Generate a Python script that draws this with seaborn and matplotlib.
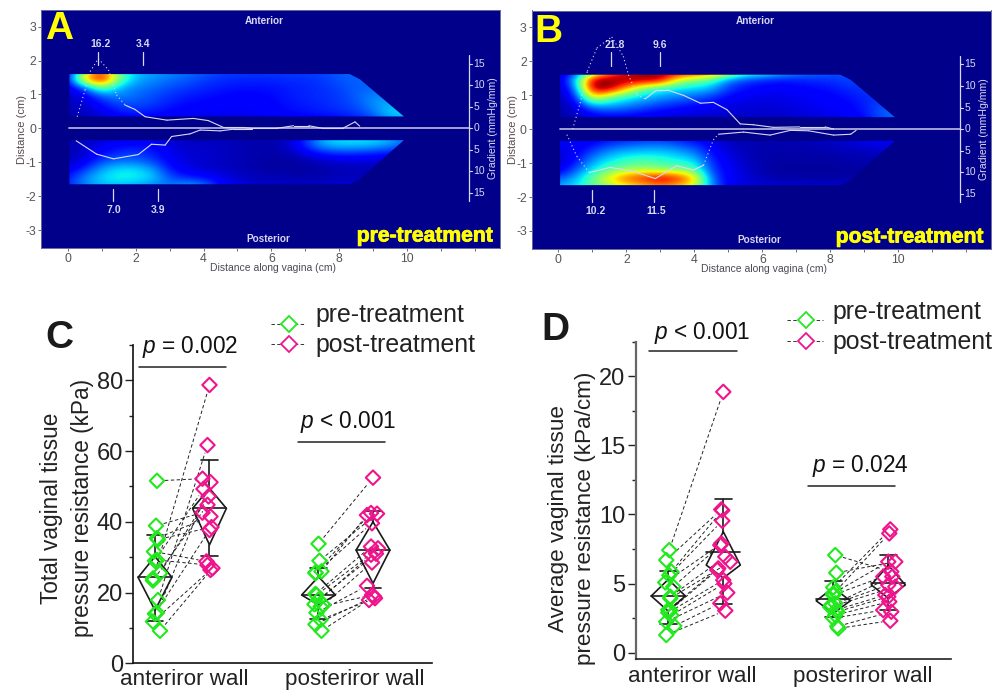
import numpy as np
import pandas as pd
import matplotlib
matplotlib.use('Agg')
import matplotlib.pyplot as plt
import matplotlib.patheffects as pe
from matplotlib.patches import Polygon
import seaborn as sns

W, H = 1004, 690

# heat maps, jet scale x100, columns x = 0, 0.5 ... 10 cm
heat_x_step = 0.5
ant_rows = [1.7, 1.45, 1.2, 0.95, 0.7, 0.45, 0.2]
post_rows = [-0.2, -0.45, -0.7, -0.95, -1.2, -1.45, -1.7]

a_ant = [
    [8, 48, 82, 44, 32, 29, 26, 24, 22, 20, 19, 19, 19, 19, 19, 20, 22, 24, 24, 24, 24],
    [8, 76, 100, 52, 30, 27, 24, 22, 19, 17, 16, 16, 16, 17, 17, 18, 21, 22, 22, 22, 22],
    [7, 20, 52, 30, 25, 23, 20, 18, 16, 15, 14, 14, 14, 15, 16, 17, 19, 22, 22, 22, 22],
    [6, 9, 21, 26, 23, 20, 17, 15, 14, 13, 12, 12, 13, 15, 16, 17, 18, 22, 26, 26, 26],
    [5, 7, 13, 19, 20, 18, 15, 13, 12, 11, 11, 11, 12, 14, 15, 16, 18, 20, 27, 30, 30],
    [4, 6, 9, 14, 15, 14, 12, 11, 11, 11, 11, 11, 12, 13, 14, 15, 16, 18, 23, 34, 34],
    [3, 4, 6, 8, 9, 9, 8, 7, 7, 7, 7, 7, 8, 8, 9, 10, 11, 13, 16, 26, 26],
]
a_post = [
    [4, 5, 6, 7, 7, 6, 6, 5, 5, 5, 4, 4, 4, 5, 12, 28, 32, 32, 32, 28, 22],
    [4, 6, 9, 11, 12, 11, 8, 6, 6, 6, 5, 4, 4, 7, 18, 32, 36, 36, 35, 30, 22],
    [4, 7, 12, 16, 17, 15, 10, 7, 7, 6, 5, 4, 4, 5, 11, 18, 20, 20, 18, 16, 14],
    [5, 9, 18, 22, 22, 18, 11, 8, 7, 6, 5, 4, 3, 3, 4, 6, 8, 8, 8, 8, 8],
    [8, 16, 28, 34, 34, 28, 14, 9, 7, 6, 5, 4, 3, 3, 3, 4, 5, 5, 5, 5, 5],
    [14, 26, 34, 39, 38, 34, 20, 15, 13, 10, 7, 5, 5, 4, 4, 4, 5, 5, 5, 5, 5],
    [15, 25, 30, 30, 28, 25, 24, 30, 26, 12, 9, 7, 7, 7, 7, 7, 8, 8, 8, 8, 8],
]
b_ant = [
    [6, 14, 40, 72, 88, 96, 98, 96, 95, 88, 70, 50, 45, 35, 28, 25, 22, 20, 20, 20, 20],
    [6, 30, 100, 100, 100, 100, 98, 62, 50, 44, 24, 18, 15, 14, 15, 16, 17, 19, 19, 19, 19],
    [5, 20, 100, 100, 72, 48, 38, 35, 34, 30, 18, 14, 12, 11, 12, 13, 14, 16, 18, 18, 18],
    [5, 12, 70, 48, 38, 32, 28, 25, 22, 18, 12, 10, 9, 9, 10, 11, 12, 14, 16, 18, 18],
    [4, 8, 28, 30, 26, 22, 18, 15, 13, 11, 9, 8, 8, 8, 9, 10, 11, 12, 15, 20, 20],
    [3, 6, 12, 14, 14, 12, 10, 9, 8, 8, 7, 7, 7, 7, 8, 9, 10, 11, 14, 22, 25],
    [3, 4, 7, 8, 8, 7, 6, 5, 5, 5, 5, 5, 5, 5, 6, 7, 8, 9, 11, 18, 20],
]
b_post = [
    [8, 10, 10, 11, 12, 13, 13, 11, 9, 7, 5, 5, 5, 5, 5, 6, 7, 8, 10, 12, 12],
    [12, 10, 12, 17, 20, 22, 23, 20, 16, 11, 6, 5, 4, 4, 4, 5, 6, 7, 9, 10, 10],
    [8, 10, 20, 28, 32, 33, 33, 30, 25, 13, 8, 5, 4, 4, 4, 4, 4, 5, 5, 6, 6],
    [6, 13, 28, 36, 42, 45, 42, 38, 35, 16, 10, 6, 4, 3, 3, 3, 3, 4, 4, 4, 4],
    [8, 20, 35, 46, 52, 55, 50, 50, 45, 18, 11, 7, 4, 3, 3, 3, 3, 3, 3, 3, 3],
    [20, 30, 48, 68, 84, 90, 100, 92, 72, 22, 11, 8, 5, 4, 3, 3, 3, 3, 3, 3, 3],
    [30, 35, 45, 52, 60, 66, 72, 66, 60, 26, 10, 9, 8, 8, 8, 8, 8, 8, 8, 8, 8],
]

# gradient curves (cm, mmHg/mm)
a_ant_x = [0.28, 0.51, 0.66, 0.9, 1.2, 1.44, 1.69, 1.98, 2.28, 2.92, 3.7, 4.14, 4.59, 5.17, 5.4, 6.15, 6.65, 7.1, 7.5, 8.1, 8.46, 8.6]
a_ant_g = [2.7, 8.9, 13.2, 16.2, 13.6, 7.8, 5.4, 4.4, 2.7, 1.9, 2.3, 1.8, 0.2, 0.2, 0, 0, 0.6, 0.6, 0, 0, 1.5, 0.5]
a_post_x = [0.25, 0.85, 1.35, 2.08, 2.47, 2.87, 3.06, 3.6, 3.9, 4.49, 4.88, 5.42]
a_post_g = [2.9, 6, 7.1, 6.1, 3.7, 3.9, 1.9, 1.3, 0.4, 0.6, 0.2, 0.2]
b_ant_x = [0.42, 0.64, 0.85, 1.13, 1.57, 1.91, 2.06, 2.31, 2.55, 2.9, 3.2, 3.69, 4.18, 4.56, 4.96, 5.35, 5.74, 6.33, 7.1, 7.85, 8.1]
b_ant_g = [0, 6, 13.4, 18.8, 21.4, 16.9, 12.6, 8, 7, 9.1, 9.1, 7.8, 6, 6.2, 4.5, 1.2, 1, 0.4, 0.5, 0.5, 0]
b_post_x = [0.25, 0.54, 0.91, 1.52, 2.2, 2.85, 3.48, 3.97, 4.27, 4.56, 4.71, 5.45, 6.23, 6.82, 7.36, 8.1, 8.6, 8.76]
b_post_g = [1.3, 6.3, 10.1, 8.9, 9.8, 11.5, 8.5, 9.5, 8.4, 2.5, 1.2, 0.7, 1.4, 0.3, 0.4, 1.4, 1.2, 0.3]

# peak labels: label, label x, tick x
a_ant_peaks = [('16.2', 0.98, 0.9), ('3.4', 2.21, 2.21)]
a_post_peaks = [('7.0', 1.345, 1.345), ('3.9', 2.65, 2.65)]
b_ant_peaks = [('21.8', 1.65, 1.56), ('9.6', 3.0, 3.0)]
b_post_peaks = [('10.2', 1.1, 1.0), ('11.5', 2.89, 2.8)]
gradient_ticks = [15, 10, 5, 0, 5, 10, 15]

# paired points, value and sideways offset in px
c_ant_pre = [51.6, 38.9, 35.4, 35, 31.6, 29.2, 29, 25.5, 24, 23.4, 17.9, 14.3, 14, 11.8, 9.2]
c_ant_pre_off = [2, 1, 2, 3, -1, 2, 0, 5, -2, -2, 3, 2, 0, -2, 5]
c_ant_post = [52.2, 42.6, 41.5, 38.5, 28.8, 27.8, 49.3, 47.2, 78.7, 44.8, 61.7, 51.2, 37.7, 26.4, 26.9]
c_ant_post_off = [-7, -7, 1, 2, -3, -2, -6, -1, 0, -2, -2, 1, 0, 1, 3]
c_pos_pre = [33.8, 29, 26, 25.7, 25.5, 19.6, 19.3, 18, 16.7, 16.5, 16, 14.3, 12.3, 11, 9.2]
c_pos_pre_off = [0, 1, 3, -3, -3, -3, -2, 0, -4, 5, 2, -2, 2, -3, 3]
c_pos_post = [52.5, 42.3, 41.9, 42.5, 39.6, 33, 32.5, 31, 30.7, 28.5, 19.3, 21.9, 18.4, 18.9, 17.9]
c_pos_post_off = [0, 4, -6, -2, -1, -2, 5, 3, -2, -1, -1, -6, 2, 1, -4]

d_ant_pre = [7.42, 6.7, 5.86, 5.6, 5.08, 4.77, 4.05, 3.93, 3.1, 3.08, 2.9, 2.7, 2.24, 1.93, 1.28]
d_ant_pre_off = [1, -2, 3, 1, -3, 5, 2, 2, 0, 2, 0, 3, -2, 6, -2]
d_ant_post = [18.87, 10.36, 10.3, 9.54, 7.9, 7.78, 6.94, 6.58, 6.1, 5.98, 5.25, 5.0, 4.34, 3.57, 3.04]
d_ant_post_off = [0, -2, -1, -1, -2, -3, 2, 7, -5, -6, 0, 1, 4, -3, 2]
d_pos_pre = [7.06, 5.78, 4.72, 4.4, 4.29, 4.17, 3.57, 3.45, 3.3, 3.1, 2.96, 2.72, 2.5, 1.9, 1.76]
d_pos_pre_off = [2, 3, 0, 2, 0, 0, 2, -2, -3, 3, 4, 2, 0, 4, 5]
d_pos_post = [5.86, 6.58, 8.92, 8.63, 6.58, 5.5, 5.5, 4.9, 4.77, 4.17, 4.05, 3.69, 3.08, 2.96, 2.31]
d_pos_post_off = [3, 7, 2, 1, 0, -5, 4, 0, 7, -3, 0, 1, -5, 3, 2]

# summaries: mean, median, diamond low, diamond high, whisker low, whisker high
c_summary = [[24.3, 24.3, 15, 30.2, 12, 36.3], [43.8, 43.8, 33.5, 49.5, 30.2, 57.5],
             [19.3, 19.3, 16.5, 24.5, 12.5, 27], [32, 32, 22.6, 40, 21.2, 43]]
d_summary = [[4.1, 4.1, 3.0, 5.3, 2.1, 5.93], [7.3, 6.34, 5.4, 8.75, 3.52, 11.1],
             [3.86, 3.75, 2.85, 4.7, 2.6, 5.18], [5.06, 4.9, 3.95, 6.33, 3.1, 7.06]]

wall_labels = ['anteriror wall', 'posteriror wall']
GREEN = '#22e81e'
PINK = '#f0148c'
NAVY = '#00008a'
PALE = '#d8d8f4'
GRAD_SCALE = 0.1268   # cm of plot height per mmHg/mm

sns.set_theme(style='white')
plt.rcParams['font.family'] = ['Liberation Sans', 'DejaVu Sans']
plt.rcParams['mathtext.fontset'] = 'custom'
plt.rcParams['mathtext.rm'] = 'Liberation Sans'
plt.rcParams['mathtext.it'] = 'Liberation Sans:italic'
plt.rcParams['axes.unicode_minus'] = False

fig = plt.figure(figsize=(W / 100, H / 100), dpi=100)


def px_axes(left, top, right, bottom):
    return fig.add_axes([left / W, 1 - bottom / H, (right - left) / W, (bottom - top) / H])


def draw_heat(ax, grid, rows, outline):
    step = abs(rows[1] - rows[0])
    extent = [-heat_x_step / 2, len(grid[0]) * heat_x_step - heat_x_step / 2,
              min(rows) - step / 2, max(rows) + step / 2]
    im = ax.imshow(np.array(grid) / 100, cmap='jet', vmin=0, vmax=1, aspect='auto', extent=extent,
                   interpolation='bicubic', interpolation_stage='data', zorder=1)
    im.set_clip_path(Polygon(outline, closed=True, transform=ax.transData))


def draw_curve(ax, xs, grads, sign, dotted):
    df = pd.DataFrame({'x': xs, 'y': [sign * g * GRAD_SCALE for g in grads]})
    for i in range(len(df) - 1):
        style = (0, (1, 2.5)) if i in dotted else '-'
        sns.lineplot(data=df.iloc[i:i + 2], x='x', y='y', ax=ax, color=PALE, lw=0.8,
                     linestyle=style, estimator=None, sort=False, zorder=3)


def heat_panel(ax, ant, post, curves, peaks_top, peaks_bottom):
    ax.set_facecolor(NAVY)
    draw_heat(ax, ant, ant_rows, [(0.05, 0.35), (0.05, 1.6), (8.3, 1.6), (8.6, 1.45), (9.9, 0.35)])
    draw_heat(ax, post, post_rows, [(0.05, -0.35), (0.05, -1.65), (8.3, -1.65), (8.6, -1.5), (9.9, -0.35)])
    ax.plot([0.05, 11.82], [0, 0], color='#aeaed8', lw=1.3, zorder=3)
    for xs, grads, sign, dotted in curves:
        draw_curve(ax, xs, grads, sign, dotted)
    for label, lx, tx in peaks_top:
        ax.plot([tx, tx], [1.87, 2.26], color=PALE, lw=0.9, zorder=4)
        ax.text(lx, 2.48, label, color=PALE, fontsize=7.5, fontweight='bold', ha='center', va='center', zorder=5)
    for label, lx, tx in peaks_bottom:
        ax.plot([tx, tx], [-2.14, -1.79], color=PALE, lw=0.9, zorder=4)
        ax.text(lx, -2.42, label, color=PALE, fontsize=7.5, fontweight='bold', ha='center', va='center', zorder=5)
    # gradient scale inside the map
    ax.plot([11.82, 11.82], [-2.15, 2.15], color=PALE, lw=0.9, zorder=4)
    for k, g in enumerate(gradient_ticks):
        y = (3 - k) * 5 * GRAD_SCALE
        ax.plot([11.82, 11.9], [y, y], color=PALE, lw=0.8, zorder=4)
        ax.text(11.95, y, str(g), color=PALE, fontsize=7.5, va='center', ha='left', zorder=5)
    ax.text(12.52, 0, 'Gradient (mmHg/mm)', color=PALE, fontsize=7.6, rotation=90, va='center', ha='center')
    ax.text(5.8, 3.17, 'Anterior', color=PALE, fontsize=7.2, fontweight='bold', ha='center', va='center')
    ax.text(5.9, -3.26, 'Posterior', color=PALE, fontsize=7.2, fontweight='bold', ha='center', va='center')

    ax.set_xlim(-0.786, 12.73)
    ax.set_ylim(-3.53, 3.49)
    ax.set_xticks(range(0, 13))
    ax.set_xticklabels(['0', '', '2', '', '4', '', '6', '', '8', '', '10', '', ''])
    ax.set_yticks(range(-3, 4))
    ax.tick_params(colors='#555555', labelsize=8.8, length=2, width=0.6, pad=1.5, bottom=True, left=True)
    ax.set_xlabel('Distance along vagina (cm)', fontsize=7.5, color='#4a4a55')
    ax.set_ylabel('Distance (cm)', fontsize=8, color='#5a4a50')
    ax.xaxis.set_label_coords(0.5 + 3 / 459, -15 / 238)
    ax.yaxis.set_label_coords(-14 / 459, 0.5)
    for sp in ax.spines.values():
        sp.set_color('#6a6aa0')
        sp.set_linewidth(0.7)


def pair_lines(ax, x0, y0, x1, y1, unit, yunit):
    # dashed links stop at the edge of the diamonds, as in the original
    rows = []
    for sid, (xa, ya, xb, yb) in enumerate(zip(x0, y0, x1, y1)):
        frac = 8 / np.hypot((xb - xa) * unit, (yb - ya) * yunit)
        rows.append({'subject': sid, 'x': xa + frac * (xb - xa), 'y': ya + frac * (yb - ya)})
        rows.append({'subject': sid, 'x': xb - frac * (xb - xa), 'y': yb - frac * (yb - ya)})
    sns.lineplot(data=pd.DataFrame(rows), x='x', y='y', units='subject', estimator=None, sort=False,
                 ax=ax, color='#222222', lw=0.7, linestyle=(0, (3.5, 2.5)), zorder=2)


def diamonds(ax, xs, ys, color):
    sns.scatterplot(x=xs, y=ys, ax=ax, marker='D', s=54, color=color, edgecolor=color, linewidth=1.5,
                    zorder=4, clip_on=False)
    ax.collections[-1].set_facecolor('none')


def summary_box(ax, pos, stats, hw=0.31):
    mean, median, lo, hi, wlo, whi = stats
    ax.plot([pos, pos + hw, pos, pos - hw, pos], [hi, median, lo, median, hi], color='k', lw=1.2, zorder=3)
    ax.plot([pos - hw, pos + hw], [mean, mean], color='k', lw=1.2, zorder=3)
    ax.plot([pos, pos], [hi, whi], color='k', lw=1.2, zorder=3)
    ax.plot([pos, pos], [wlo, lo], color='k', lw=1.2, zorder=3)
    for v in (wlo, whi):
        ax.plot([pos - hw / 2, pos + hw / 2], [v, v], color='k', lw=1.2, zorder=3)


def paired_panel(ax, groups, unit, yunit, summary, xpad):
    for (base, pre, pre_off, post, post_off) in groups:
        x0 = [base + o / unit for o in pre_off]
        x1 = [base + 1 + o / unit for o in post_off]
        pair_lines(ax, x0, pre, x1, post, unit, yunit)
        diamonds(ax, x0, pre, GREEN)
        diamonds(ax, x1, post, PINK)
        summary_box(ax, base, summary[0 if base == 0 else 2])
        summary_box(ax, base + 1, summary[1 if base == 0 else 3])
    ax.spines['top'].set_visible(False)
    ax.spines['right'].set_visible(False)
    ax.tick_params(axis='y', which='major', length=6, width=1, labelsize=17, pad=1.5, left=True, colors='#222222')
    ax.tick_params(axis='y', which='minor', length=3, width=1, left=True)
    ax.tick_params(axis='x', length=0, labelsize=16.1, pad=xpad, colors='#222222')
    ax.set_xlabel('')
    ax.set_ylabel('')


# panels A and B
ax_a = px_axes(41, 10, 500, 248)
heat_panel(ax_a, a_ant, a_post,
           [(a_ant_x, a_ant_g, 1, range(0, 6)), (a_post_x, a_post_g, -1, [])],
           a_ant_peaks, a_post_peaks)
ax_b = px_axes(531.7, 10.5, 991, 249)
heat_panel(ax_b, b_ant, b_post,
           [(b_ant_x, b_ant_g, 1, range(0, 8)), (b_post_x, b_post_g, -1, [0, 1, 8, 9])],
           b_ant_peaks, b_post_peaks)

# panel C
ax_c = px_axes(133.3, 345, 431.7, 663.3)
paired_panel(ax_c, [(0, c_ant_pre, c_ant_pre_off, c_ant_post, c_ant_post_off),
                    (3, c_pos_pre, c_pos_pre_off, c_pos_post, c_pos_post_off)], 54.5, 3.53, c_summary, 4)
ax_c.set_xlim(-0.398, 5.077)
ax_c.set_ylim(0, 90)
ax_c.set_yticks([0, 20, 40, 60, 80])
ax_c.set_yticks([10, 30, 50, 70, 90], minor=True)
ax_c.set_xticks([0.53, 3.66])
ax_c.set_xticklabels(wall_labels)
for sp in ('left', 'bottom'):
    ax_c.spines[sp].set_color('#111111')
    ax_c.spines[sp].set_linewidth(1.2)

# panel D
ax_d = px_axes(636, 341.7, 950.7, 659.3)
paired_panel(ax_d, [(0, d_ant_pre, d_ant_pre_off, d_ant_post, d_ant_post_off),
                    (3, d_pos_pre, d_pos_pre_off, d_pos_post, d_pos_post_off)], 55, 13.83, d_summary, 5)
ax_d.set_xlim(-0.587, 5.135)
ax_d.set_ylim(-0.48, 22.5)
ax_d.set_yticks([0, 5, 10, 15, 20])
ax_d.set_yticks([2.5, 7.5, 12.5, 17.5, 22.5], minor=True)
ax_d.set_xticks([0.44, 3.54])
ax_d.set_xticklabels(wall_labels)
ax_d.spines['left'].set_color('#666666')
ax_d.spines['left'].set_linewidth(1.6)
ax_d.spines['bottom'].set_color('#222222')
ax_d.spines['bottom'].set_linewidth(1.2)

# everything placed by figure pixel: letters, legends, p values
ov = fig.add_axes([0, 0, 1, 1], zorder=10)
ov.set_xlim(0, W)
ov.set_ylim(H, 0)
ov.axis('off')
ov.patch.set_alpha(0)

for label, x, y, color in [('A', 59, 29, '#ffff00'), ('B', 548, 32, '#ffff00'), ('C', 59, 338, 'k'), ('D', 555, 330, 'k')]:
    ov.text(x, y, label, fontsize=28, fontweight='bold', color=color, ha='center', va='center')
for label, x, y in [('pre-treatment', 492.7, 236), ('post-treatment', 983.3, 237)]:
    ov.text(x, y, label, fontsize=15.2, fontweight='bold', color='#ffff00', ha='right', va='center',
            path_effects=[pe.withStroke(linewidth=0.6, foreground='#ffff00')])

ov.text(67, 508, 'Total vaginal tissue\npressure resistance (kPa)', fontsize=16.3, rotation=90,
        ha='center', va='center', color='#222222', linespacing=1.42)
ov.text(572, 518, 'Average vaginal tissue\npressure resistance (kPa/cm)', fontsize=16.2, rotation=90,
        ha='center', va='center', color='#222222', linespacing=1.42)

for x0, x1, y, tx, ty, label in [(139, 226, 366.7, 190, 346.7, '$\\mathit{p}$ = 0.002'),
                                 (298, 385, 442, 348, 421.7, '$\\mathit{p}$ < 0.001'),
                                 (649, 736.7, 350.7, 702.7, 332.7, '$\\mathit{p}$ < 0.001'),
                                 (808, 895, 486, 860, 466, '$\\mathit{p}$ = 0.024')]:
    ov.plot([x0, x1], [y, y], color='#222222', lw=1.1)
    ov.text(tx, ty, label, fontsize=16.3, ha='center', va='center', color='#111111')

for x, dash0, dash1, y_pre, y_post, tx, ty_pre, ty_post in [(289, 271, 306, 324, 344, 315, 315, 345),
                                                            (806, 787, 823, 320, 341, 832.3, 311.7, 341.7)]:
    for y, color in [(y_pre, GREEN), (y_post, PINK)]:
        ov.plot([dash0, dash1], [y, y], color='#333333', lw=0.7, linestyle=(0, (3.5, 2.5)), zorder=1)
        ov.plot([x], [y], marker='D', ms=8.5, mfc='white', mec=color, mew=1.3, zorder=2)
    ov.text(tx, ty_pre, 'pre-treatment', fontsize=17.9, ha='left', va='center', color='#222222')
    ov.text(tx, ty_post, 'post-treatment', fontsize=17.9, ha='left', va='center', color='#222222')
ov.set_xlim(0, W)
ov.set_ylim(H, 0)

fig.savefig('out.png', dpi=100, facecolor='white')
